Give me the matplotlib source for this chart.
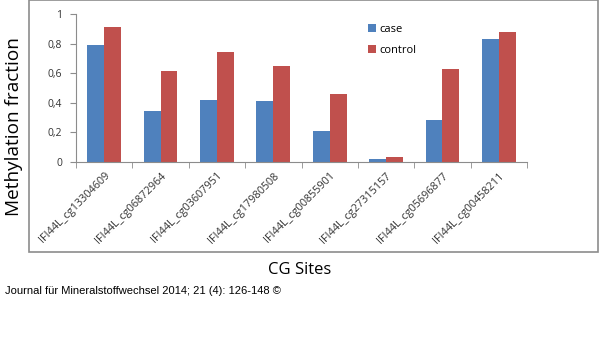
import numpy as np
import matplotlib
matplotlib.use("Agg")
import matplotlib.pyplot as plt
from matplotlib.patches import Rectangle

# CpG sites of IFI44L and methylation fractions per group
sites = ["IFI44L_cg13304609", "IFI44L_cg06872964", "IFI44L_cg03607951",
         "IFI44L_cg17980508", "IFI44L_cg00855901", "IFI44L_cg27315157",
         "IFI44L_cg05696877", "IFI44L_cg00458211"]
case = [0.79, 0.345, 0.42, 0.415, 0.21, 0.022, 0.285, 0.83]
control = [0.915, 0.617, 0.745, 0.647, 0.46, 0.035, 0.63, 0.877]
yticks = [0, 0.2, 0.4, 0.6, 0.8, 1]
yticklabels = ["0", "0,2", "0,4", "0,6", "0,8", "1"]

blue = "#4F81BD"
red = "#C0504D"
font = ["Open Sans", "DejaVu Sans"]

fig = plt.figure(figsize=(6, 3.38), dpi=100)

# grauer Rahmen um das Diagramm
fig.patches.append(Rectangle((28.5 / 600, 1 - 252 / 338), 569 / 600, 252 / 338,
                             transform=fig.transFigure, fill=False,
                             edgecolor="#8c8c8c", linewidth=1.2))

ax = fig.add_axes([76 / 600, 1 - 162 / 338, 451 / 600, 148 / 338])

x = np.arange(len(sites))
w = 0.3
ax.bar(x - w / 2, case, w, color=blue, label="case")
ax.bar(x + w / 2, control, w, color=red, label="control")

ax.set_xlim(-0.5, len(sites) - 0.5)
ax.set_ylim(0, 1)
ax.set_yticks(yticks)
ax.set_yticklabels(yticklabels, family=font, fontsize=7.5, color="#333333")
ax.set_xticks(x)
ax.set_xticklabels(sites, rotation=45, ha="right", rotation_mode="anchor",
                   family=font, fontsize=7.8, color="#333333")
# Teilstriche zwischen den Kategorien
ax.set_xticks(np.arange(len(sites) + 1) - 0.5, minor=True)
ax.tick_params(axis="x", which="major", length=0, pad=6)
ax.tick_params(axis="x", which="minor", length=4, color="#8c8c8c")
ax.tick_params(axis="y", length=4, color="#8c8c8c", pad=6)

for s in ["top", "right"]:
    ax.spines[s].set_visible(False)
for s in ["left", "bottom"]:
    ax.spines[s].set_color("#8c8c8c")
    ax.spines[s].set_linewidth(0.8)

ax.legend(loc="upper left", bbox_to_anchor=(0.625, 1.0), frameon=False,
          handlelength=0.7, handleheight=0.7, handletextpad=0.3,
          labelspacing=0.9, prop={"family": font, "size": 8})

fig.text(14 / 600, 1 - 127 / 338, "Methylation fraction", rotation=90,
         ha="center", va="center", family=font, fontsize=13.7)
fig.text(300 / 600, 1 - 270 / 338, "CG Sites", ha="center", va="center",
         family=font, fontsize=12)
fig.text(5 / 600, 1 - 291 / 338, "Journal für Mineralstoffwechsel 2014; 21 (4): 126-148 ©",
         ha="left", va="center", family=["Liberation Sans Narrow", "Liberation Sans", "DejaVu Sans"],
         fontsize=8)

fig.savefig("out.png", dpi=100, facecolor="white")
